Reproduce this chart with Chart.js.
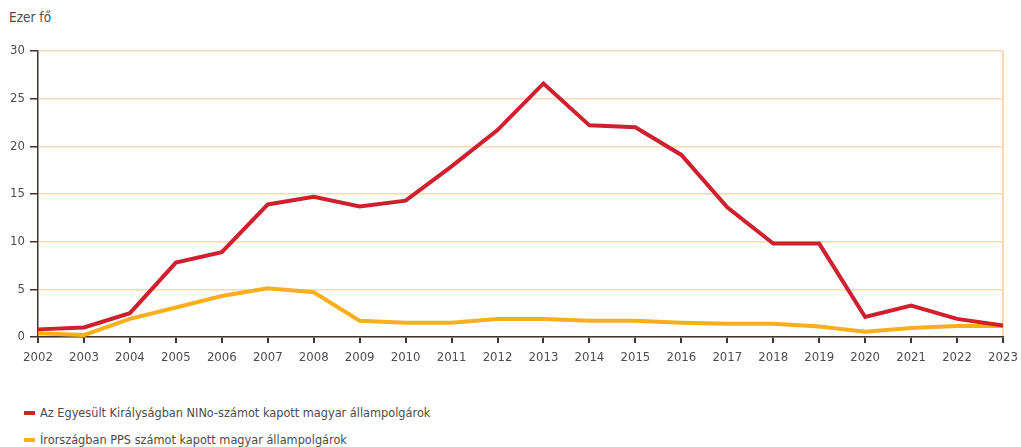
<!DOCTYPE html>
<html lang="hu">
<head>
<meta charset="utf-8">
<script src="https://cdn.jsdelivr.net/npm/chart.js@4.4.1/dist/chart.umd.min.js"></script>
<style>
    body { margin: 0; background: #fff; font-family: 'DejaVu Sans Condensed', 'Liberation Sans Narrow', sans-serif; color: #4d4d4d; }
    .wrap { position: relative; width: 1021px; height: 447px; overflow: hidden; }
    .unit { position: absolute; left: 9px; top: 9px; font-size: 13.5px; }
    .chart-box { position: absolute; left: 0; top: 0; width: 1021px; height: 380px; }
    .legend { position: absolute; left: 24px; top: 399px; font-size: 12.6px; }
    .legend div { height: 27px; line-height: 22px; display: flex; align-items: center; }
    .legend span.mark { display: inline-block; width: 11px; height: 4px; margin-right: 5px; }
</style>
</head>
<body>
<div class="wrap">
    <div class="unit">Ezer fő</div>
    <div class="chart-box"><canvas id="chart"></canvas></div>
    <div class="legend" id="legend"></div>
</div>
<script>
// Data
const years = ['2002', '2003', '2004', '2005', '2006', '2007', '2008', '2009', '2010', '2011', '2012',
    '2013', '2014', '2015', '2016', '2017', '2018', '2019', '2020', '2021', '2022', '2023'];
const ukNino = [0.8, 1.0, 2.5, 7.8, 8.9, 13.9, 14.7, 13.7, 14.3, 17.9, 21.7,
    26.6, 22.2, 22.0, 19.1, 13.6, 9.8, 9.8, 2.1, 3.3, 1.9, 1.2];
const irelandPps = [0.4, 0.2, 1.9, 3.1, 4.3, 5.1, 4.7, 1.7, 1.5, 1.5, 1.9,
    1.9, 1.7, 1.7, 1.5, 1.4, 1.4, 1.1, 0.55, 0.95, 1.15, 1.15];
const yTicks = [0, 5, 10, 15, 20, 25, 30];
const seriesLabels = ['Az Egyesült Királyságban NINo-számot kapott magyar állampolgárok',
    'Írországban PPS számot kapott magyar állampolgárok'];

const red = '#cf202e';
const yellow = '#f9ae1c';
const gridOrange = '#fcd8b2';
const axisDark = '#3a3530';
const textGrey = '#4d4d4d';
const font = { family: "'DejaVu Sans Condensed', 'Liberation Sans Narrow', sans-serif", size: 13 };

const chart = new Chart(document.getElementById('chart').getContext('2d'), {
    type: 'line',
    data: {
        labels: years,
        datasets: [{
            label: seriesLabels[0],
            data: ukNino,
            borderColor: red,
            backgroundColor: red,
            borderWidth: 4,
            pointRadius: 0,
            tension: 0
        }, {
            label: seriesLabels[1],
            data: irelandPps,
            borderColor: yellow,
            backgroundColor: yellow,
            borderWidth: 4,
            pointRadius: 0,
            tension: 0
        }]
    },
    options: {
        responsive: true,
        maintainAspectRatio: false,
        animation: false,
        layout: { padding: { top: 51, right: 18, left: 0, bottom: 0 } },
        plugins: {
            legend: { display: false },
            tooltip: { enabled: false }
        },
        scales: {
            x: {
                offset: false,
                grid: {
                    drawOnChartArea: true,
                    color: (ctx) => ctx.index === years.length - 1 ? gridOrange : 'transparent',
                    lineWidth: 2,
                    tickColor: axisDark,
                    tickLength: 6
                },
                border: { color: axisDark, width: 1.5 },
                ticks: { color: textGrey, font: font, padding: 7, maxRotation: 0, autoSkip: false },
                afterFit: (scale) => {
                    scale.height = 43;
                    scale.paddingLeft = 0;
                    scale.paddingRight = 0;
                }
            },
            y: {
                min: 0,
                max: 30,
                afterBuildTicks: (scale) => { scale.ticks = yTicks.map(v => ({ value: v })); },
                grid: {
                    color: gridOrange,
                    lineWidth: 1.5,
                    tickColor: axisDark,
                    tickLength: 8
                },
                border: { color: axisDark, width: 1.5 },
                ticks: { color: textGrey, font: font, padding: 5 },
                afterFit: (scale) => { scale.width = 38; }
            }
        }
    }
});

// Legend below the chart
const legendEl = document.getElementById('legend');
chart.data.datasets.forEach(ds => {
    const row = document.createElement('div');
    row.innerHTML = '<span class="mark" style="background:' + ds.borderColor + '"></span>' + ds.label;
    legendEl.appendChild(row);
});
</script>
</body>
</html>
